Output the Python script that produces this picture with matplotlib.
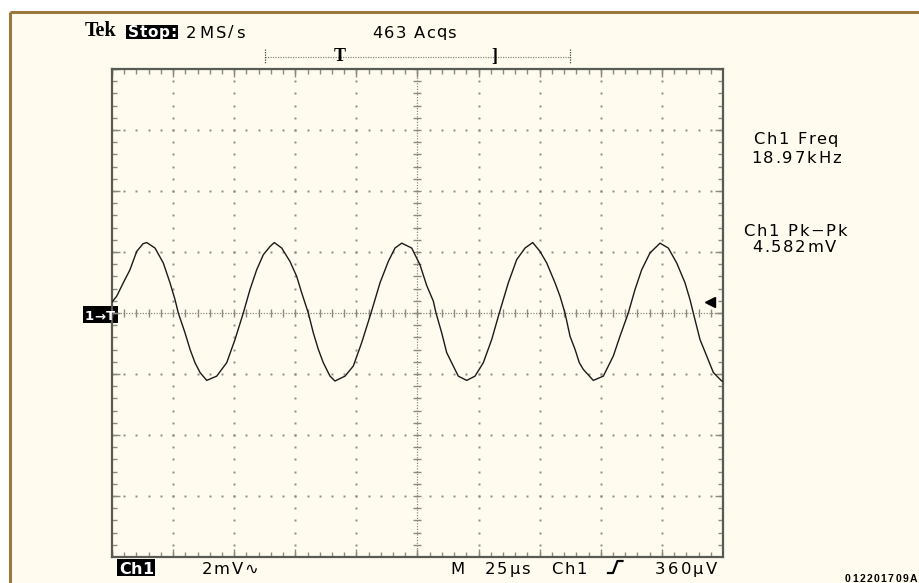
import matplotlib
matplotlib.use("Agg")
import matplotlib.pyplot as plt
from matplotlib.textpath import TextToPath
from matplotlib.font_manager import FontProperties
import numpy as np

# ---- data (time in microseconds, voltage in mV) ----
time_us = [0.0, 1.92, 4.62, 7.37, 10.11, 12.68, 14.20, 17.59, 20.99, 23.73, 25.78,
           27.13, 29.87, 31.92, 33.96, 36.01, 38.75, 42.84, 46.93, 50.33, 53.72,
           56.47, 59.21, 61.91, 64.65, 66.41, 69.44, 72.83, 75.57, 77.62, 80.32,
           82.37, 84.41, 86.46, 89.20, 91.24, 95.34, 98.73, 102.17, 105.98, 109.66,
           113.05, 115.80, 118.54, 122.63, 126.02, 128.77, 131.47, 132.57, 134.90,
           136.95, 139.65, 141.70, 145.13, 148.53, 151.93, 155.36, 158.47, 162.16,
           165.59, 168.99, 172.14, 175.12, 177.87, 181.26, 183.31, 185.35, 187.40,
           189.45, 191.21, 192.85, 196.93, 201.03, 205.12, 207.86, 211.25, 214.00,
           216.74, 220.13, 224.23, 227.62, 231.06, 234.45, 236.50, 237.85, 240.59,
           243.33, 246.04, 249.47, 250.0]
volt_mv = [0.36, 0.55, 0.99, 1.42, 2.02, 2.27, 2.31, 2.13, 1.64, 0.99, 0.44,
           0.0, -0.65, -1.19, -1.63, -1.95, -2.21, -2.07, -1.63, -0.87, 0.0,
           0.77, 1.42, 1.91, 2.18, 2.31, 2.13, 1.69, 1.20, 0.66, 0.0,
           -0.65, -1.19, -1.63, -2.07, -2.23, -2.07, -1.74, -0.97, 0.0, 0.99,
           1.69, 2.13, 2.29, 2.13, 1.58, 0.90, 0.39, 0.0, -0.65,
           -1.30, -1.74, -2.07, -2.21, -2.07, -1.63, -0.87, 0.0, 0.99,
           1.75, 2.13, 2.31, 2.02, 1.64, 0.99, 0.55, 0.0, -0.76,
           -1.19, -1.63, -1.85, -2.21, -2.07, -1.41, -0.76, 0.0, 0.77,
           1.42, 1.97, 2.29, 2.13, 1.64, 0.99, 0.44, 0.0, -0.87,
           -1.41, -1.95, -2.23, -2.23]

time_per_div = 25.0      # us/div
volt_per_div = 2.0       # mV/div
n_xdiv, n_ydiv = 10, 8
trigger_level_mv = 0.36

top_left = "Tek"
status = "Stop:"
rate = "2MS/s"
acqs = "463 Acqs"
meas = [("Ch1 Freq", "18.97kHz"), ("Ch1 Pk\u2212Pk", "4.582mV")]
bottom_ch = "Ch1"
bottom_scale = "2mV\u223f"
bottom_items = ["M", "25\u00b5s", "Ch1", "360\u00b5V"]
fig_id = "012201709A"

W, H = 920, 583
BG = "#fffcef"
GRID = "#8a8a80"
TS = 11.8  # main screen text size

fig = plt.figure(figsize=(W / 100, H / 100), dpi=100, facecolor="white")

def fx(x):
    return x / W

def fy(y):
    return 1 - y / H

# screen background and brown frame
bg = fig.add_axes([0, 0, 1, 1])
bg.set_xlim(0, W)
bg.set_ylim(H, 0)
bg.axis("off")
bg.add_patch(plt.Rectangle((11, 12), W - 11, H - 12, facecolor=BG, edgecolor="none"))
bg.plot([10.5, W], [12, 12], color="#9a7840", lw=2.2, solid_capstyle="butt")
bg.plot([10.5, 10.5], [12, H], color="#9a7840", lw=2.2, solid_capstyle="butt")

# graticule axes
ax = fig.add_axes([fx(112), fy(557), fx(723) - fx(112), (557 - 69) / H])
ax.set_facecolor("none")
xmax = n_xdiv * time_per_div
ymax = n_ydiv / 2 * volt_per_div
ax.set_xlim(0, xmax)
ax.set_ylim(-ymax, ymax)
ax.set_xticks([])
ax.set_yticks([])
for s in ax.spines.values():
    s.set_color("#5a5a55")
    s.set_linewidth(1.6)

minor_x = np.arange(0, xmax + 1e-6, time_per_div / 5)
minor_y = np.arange(-ymax, ymax + 1e-6, volt_per_div / 5)
major_x = np.arange(0, xmax + 1e-6, time_per_div)
major_y = np.arange(-ymax, ymax + 1e-6, volt_per_div)

# division grid as dots
for i in range(1, n_xdiv):
    if i == n_xdiv // 2:
        continue
    xv = i * time_per_div
    ax.plot([xv] * len(minor_y), minor_y, ls="none", marker="s", ms=1.4,
            mec="none", mfc=GRID)
for j in range(1, n_ydiv):
    if j == n_ydiv // 2:
        continue
    yv = -ymax + j * volt_per_div
    ax.plot(minor_x, [yv] * len(minor_x), ls="none", marker="s", ms=1.4,
            mec="none", mfc=GRID)

# centre lines with minor ticks
ax.axhline(0, color=GRID, lw=0.9, ls=(0, (1, 1.2)))
ax.axvline(xmax / 2, color=GRID, lw=0.9, ls=(0, (1, 1.2)))
ax.plot(minor_x, [0] * len(minor_x), ls="none", marker="|", ms=6, mew=1.0, color=GRID)
ax.plot([xmax / 2] * len(minor_y), minor_y, ls="none", marker="_", ms=6, mew=1.0, color=GRID)

# inward edge ticks
ax.plot(minor_x, [ymax] * len(minor_x), ls="none", marker=3, ms=3.5, mew=1.0, color=GRID)
ax.plot(minor_x, [-ymax] * len(minor_x), ls="none", marker=2, ms=3.5, mew=1.0, color=GRID)
ax.plot([0] * len(minor_y), minor_y, ls="none", marker=1, ms=3.5, mew=1.0, color=GRID)
ax.plot([xmax] * len(minor_y), minor_y, ls="none", marker=0, ms=3.5, mew=1.0, color=GRID)
ax.plot(major_x, [ymax] * len(major_x), ls="none", marker=3, ms=6, mew=1.0, color=GRID)
ax.plot(major_x, [-ymax] * len(major_x), ls="none", marker=2, ms=6, mew=1.0, color=GRID)
ax.plot([0] * len(major_y), major_y, ls="none", marker=1, ms=6, mew=1.0, color=GRID)
ax.plot([xmax] * len(major_y), major_y, ls="none", marker=0, ms=6, mew=1.0, color=GRID)

# waveform
ax.plot(time_us, volt_mv, color="#1a1a1a", lw=1.0, zorder=5)

# trigger level arrow
ax.plot([xmax - 5.5], [trigger_level_mv], marker="<", ms=7, color="black",
        ls="none", zorder=6)

# ---- texts ----
ttp = TextToPath()

def adv(c, prop):
    w2 = ttp.get_text_width_height_descent("x" + c + "x", prop, ismath=False)[0]
    w1 = ttp.get_text_width_height_descent("xx", prop, ismath=False)[0]
    return (w2 - w1) * 100 / 72

def spaced(x0, x1, ybase, s, size=TS, weight="normal", family="DejaVu Sans",
           color="black"):
    prop = FontProperties(family=family, size=size, weight=weight)
    advs = [adv(c, prop) for c in s]
    last = ttp.get_text_width_height_descent(s[-1], prop, ismath=False)[0] * 100 / 72
    natural = sum(advs[:-1]) + last
    track = (x1 - x0 - natural) / max(len(s) - 1, 1)
    x = x0
    for c, a in zip(s, advs):
        fig.text(fx(x), fy(ybase), c, fontproperties=prop, color=color,
                 ha="left", va="baseline")
        x += a + track

def txt(x, y, s, **kw):
    kw.setdefault("fontsize", TS)
    kw.setdefault("family", "DejaVu Sans")
    kw.setdefault("va", "center")
    kw.setdefault("ha", "left")
    fig.text(fx(x), fy(y), s, **kw)

txt(85, 31.5, top_left, family="Liberation Serif", fontweight="bold", fontsize=14.5)
bg.add_patch(plt.Rectangle((126, 25), 52, 14, facecolor="black", edgecolor="none"))
spaced(128, 176, 37, status, size=11, weight="bold", color="white")
spaced(186, 245, 37.5, rate)
spaced(372, 456, 37.5, acqs)

# record bracket
bg.plot([265, 570], [56.5, 56.5], color=GRID, lw=0.9, ls=(0, (1, 1)))
for xb in (265, 570):
    bg.plot([xb, xb], [49, 64], color="#444", lw=0.9, ls=(0, (1, 1)))
bg.text(340, 56.5, "T", family="Liberation Serif", fontweight="bold", fontsize=13,
        ha="center", va="center")
bg.text(494, 56.5, "]", family="Liberation Serif", fontweight="bold", fontsize=13,
        ha="center", va="center")

# measurements
spaced(753, 838, 144, meas[0][0])
spaced(751, 841, 163.5, meas[0][1])
spaced(743, 847, 235.5, meas[1][0])
spaced(752, 836, 252, meas[1][1])

# ground marker
bg.add_patch(plt.Rectangle((83, 306), 35, 17, facecolor="black", edgecolor="none"))
spaced(85, 115, 320, "1\u2192T", size=9.5, weight="bold", color="white")

# bottom line
bg.add_patch(plt.Rectangle((117, 559), 38, 17, facecolor="black", edgecolor="none"))
spaced(119, 153, 573.5, bottom_ch, size=11.5, weight="bold", color="white")
spaced(202, 258, 574, bottom_scale)
fig.text(fx(450), fy(574), bottom_items[0], fontsize=TS, family="DejaVu Sans",
         ha="left", va="baseline")
spaced(485, 530, 574, bottom_items[1])
spaced(551, 587, 574, bottom_items[2])
bg.plot([608, 613, 617.5, 622.5], [573, 573, 561, 561], color="black", lw=1.6)
spaced(655, 717, 574, bottom_items[3])

spaced(845, 917, 582, fig_id, size=7.5, weight="bold", family="Liberation Sans")

fig.savefig("out.png", dpi=100, facecolor="white")
